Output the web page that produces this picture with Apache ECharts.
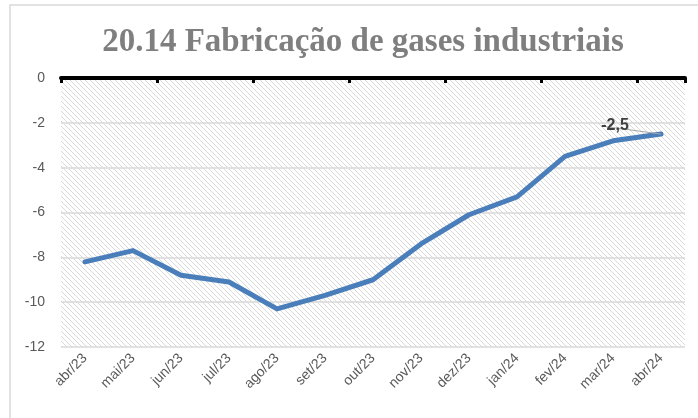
<!DOCTYPE html>
<html><head><meta charset="utf-8">
<script src="https://cdn.jsdelivr.net/npm/echarts@6/dist/echarts.min.js"></script>
<style>html,body{margin:0;padding:0;background:#fff}#c{width:698px;height:418px}</style>
</head><body><div id="c"></div>
<script>
var title = '20.14 Fabricação de gases industriais';
var categories = ['abr/23','mai/23','jun/23','jul/23','ago/23','set/23','out/23','nov/23','dez/23','jan/24','fev/24','mar/24','abr/24'];
var values = [-8.2,-7.7,-8.8,-9.1,-10.3,-9.7,-9.0,-7.4,-6.1,-5.3,-3.5,-2.8,-2.5];
var labelIndex = 12;

var pc = document.createElement('canvas');
pc.width = 5; pc.height = 5;
var g = pc.getContext('2d');
g.fillStyle = '#ffffff'; g.fillRect(0,0,5,5);
g.strokeStyle = '#d9d9d9'; g.lineWidth = 1;
g.beginPath();
g.moveTo(-1,-1); g.lineTo(6,6);
g.moveTo(-6,-1); g.lineTo(1,6);
g.moveTo(4,-1); g.lineTo(11,6);
g.stroke();

var chart = echarts.init(document.getElementById('c'), null, {renderer:'canvas'});
chart.setOption({
  animation:false,
  backgroundColor:'#ffffff',
  title:{text:title,left:358,textAlign:'center',top:21,
    textStyle:{fontFamily:'Liberation Serif',fontWeight:'bold',fontSize:33,color:'#7f7f7f'}},
  grid:{left:61,right:13,top:78,bottom:71,show:true,borderWidth:0,
    backgroundColor:{image:pc,repeat:'repeat'}},
  graphic:[{type:'rect',shape:{x:10,y:5,width:700,height:430},
    style:{fill:'none',stroke:'#d9d9d9',lineWidth:1.5},z:-1}],
  xAxis:[{type:'category',data:categories,position:'bottom',boundaryGap:true,
    axisLine:{show:false},axisTick:{show:false},
    axisLabel:{rotate:45,fontFamily:'Liberation Sans',fontSize:14,color:'#595959',margin:9}},
   {type:'category',data:categories,position:'top',boundaryGap:true,
    axisLine:{show:true,lineStyle:{color:'#000',width:4}},
    axisTick:{show:true,inside:true,length:5,lineStyle:{color:'#000',width:3}},
    axisLabel:{show:false}}],
  yAxis:{type:'value',min:-12,max:0,interval:2,
    axisLine:{show:false},axisTick:{show:false},
    splitLine:{lineStyle:{color:'#d9d9d9',width:1.5}},
    axisLabel:{fontFamily:'Liberation Sans',fontSize:14,color:'#595959',margin:16}},
  series:[{type:'line',data:values.map(function(v,i){
      return i===labelIndex ? {value:v,label:{show:true}} : v;}),
    showSymbol:true,symbol:'circle',symbolSize:0,
    lineStyle:{color:'#4a7ebb',width:5,cap:'round',join:'round'},
    itemStyle:{color:'#4a7ebb'},
    label:{show:false,position:'top',formatter:function(p){return String(p.value).replace('.',',');},
      fontFamily:'Liberation Sans',fontWeight:'bold',fontSize:16,color:'#404040'},
    labelLayout:{dx:-46,dy:5},
    labelLine:{show:true,lineStyle:{color:'#a6a6a6',width:1}}}]
});
</script></body></html>
